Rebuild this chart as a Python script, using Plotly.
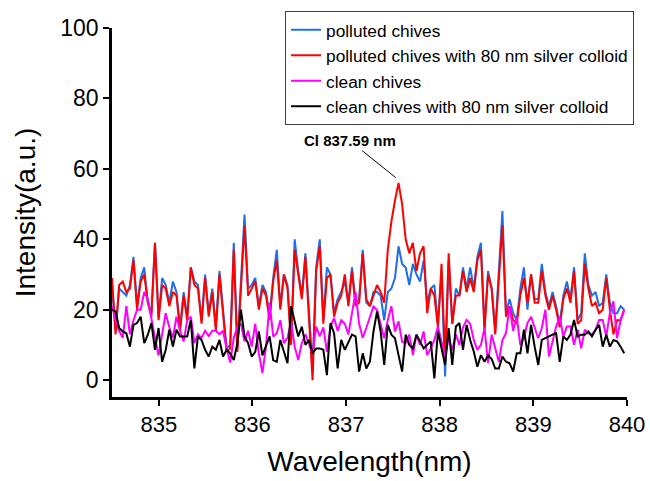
import numpy as np
import plotly.graph_objects as go

# ---- data ----
WL_START = 834.50
WL_END = 839.97

polluted = [27,14,26,25,24,27,35,21,29,32,22,19,39,18,29,27,22,28,25,15,25,18,32,
            28,27,17,30,19,26,15,31,20,9,10,39,9,27,47,26,27,29,21,27,25,18,29,37,
            21,30,27,11,40,31,24,36,19,3,32,40,17,32,30,19,23,25,28,22,32,22,23,37,
            22,21,25,25,24,17,25,26,29,38,33,32,27,33,30,28,34,22,26,27,16,30,1,34,
            16,26,24,32,26,32,26,35,39,15,31,26,14,31,48,19,23,19,17,26,32,20,30,23,
            23,33,25,21,25,21,16,24,28,23,32,17,19,36,27,24,25,21,22,30,22,19,19,21,20]

polluted_ag = [29,13,27,28,25,26,34,20,28,30,22,18,39,17,27,26,21,25,24,14,24,17,32,
               27,26,16,29,18,25,14,30,19,8,9,37,8,26,44,24,26,28,20,26,24,17,28,34,
               20,30,26,10,37,30,23,35,18,0,31,38,16,29,30,18,22,24,30,21,31,21,22,36,
               23,21,24,27,25,22,37,45,51,56,50,40,36,39,31,36,38,19,26,24,15,33,6,36,
               16,24,24,31,25,29,25,34,37,14,30,26,13,30,44,18,21,17,16,24,29,22,30,22,
               22,31,24,20,24,20,15,23,26,22,31,16,17,33,26,21,22,19,20,29,20,13,17,17,20]

clean = [21,17,14,12,21,13,17,20,20,25,23,17,12,7,13,19,15,12,18,14,11,17,18,
         10.5,13,12,14,12.5,14,14,13,14,9,5,12,15,16,11,14,9.5,16,7.6,2,9.5,22,12.4,13.3,
         17,10.5,12,16.7,9.5,5.7,10.5,13,10.5,7.6,15.2,12.4,15,8,15.2,17.6,14,17,16,13,19,25,16,12,
         14.8,17.6,20.9,19.9,15.7,11.9,17.1,21,13.8,16.7,10.9,10.5,12.9,7.1,12.9,10,13.8,7.1,9,11.4,15.2,10.9,6.7,11.9,
         8.6,13,10,15,17.1,16,11.4,8.6,10,14.8,4.8,12.9,8.6,5.2,11.4,13.3,21,14,18,10,12,16.2,18,15,
         11.9,14.8,20,6.7,11.4,15.2,18,12.4,15.2,15.2,10,14.3,9,14.3,13.3,12.9,14.3,17.1,17.1,12.4,19,22.4,11.9,17,20]

clean_ag = [20,19.5,14.8,13.8,13.3,9.5,15.7,16.2,18,10.5,12.9,16.2,8.6,14.8,5.2,8.6,14.3,9.5,14.3,12.4,12.4,12.4,17.1,
            3.3,12.4,11.4,8.6,6.7,9.5,8.6,11.4,6.7,8.6,7.6,5.7,10.5,20,12.4,10.5,6.7,8,13.8,7,9.5,12.4,5.7,5.2,
            11.4,8,4.8,21,17.1,12.4,15.2,10,11.4,7.6,9,9,8.6,1.4,16.2,13.3,3.3,11.4,8.6,10.8,12.9,12.4,2.4,7.6,
            3.3,5.2,13.8,19.5,13.8,4.3,15.7,12.9,11.9,7.1,2.4,12.9,10,9,12.9,11,9,10,11,0.5,13.8,9,4.3,14.8,
            4.3,15.2,16.2,8.6,15.7,11.4,8.1,3.8,7.1,5.2,7,6,3.3,3.3,6.7,5.2,4.8,2.4,7.6,7.6,14.3,7.6,15.7,9.5,
            4.3,11.4,12,12.4,12.9,13.3,5.2,12.4,11.4,12.9,17.1,12.4,12.9,12.9,13.8,12.4,14.3,15.7,9.5,12.9,9.5,11.4,11,9.5,7.6]

series_names = ["polluted chives",
                "polluted chives with 80 nm silver colloid",
                "clean chives",
                "clean chives with 80 nm silver colloid"]
series_values = [polluted, polluted_ag, clean, clean_ag]
series_colors = ["#1f6fe8", "#ff0000", "#ff00ff", "#000000"]

x_ticks = [835, 836, 837, 838, 839, 840]
y_ticks = [0, 20, 40, 60, 80, 100]

peak_label = "Cl 837.59 nm"
peak_x = 837.53
peak_y = 57.5

FONT = "Liberation Sans, Arial, sans-serif"

fig = go.Figure()
for name, vals, col in zip(series_names, series_values, series_colors):
    xs = np.linspace(WL_START, WL_END, len(vals))
    fig.add_trace(go.Scatter(x=xs, y=vals, mode="lines", name=name,
                             line=dict(color=col, width=2)))

fig.add_annotation(x=peak_x, y=peak_y, text="<b>" + peak_label + "</b>",
                   showarrow=True, arrowhead=0, arrowwidth=1, arrowcolor="black",
                   ax=-46, ay=-37, font=dict(family=FONT, size=15, color="black"))

fig.update_layout(
    width=650, height=481,
    margin=dict(l=112, r=23, t=28, b=84, autoexpand=False),
    paper_bgcolor="white", plot_bgcolor="white",
    font=dict(family=FONT, color="black"),
    showlegend=True,
    legend=dict(x=0.336, y=1.046, xanchor="left", yanchor="top",
                bgcolor="white", bordercolor="#404040", borderwidth=1,
                font=dict(family=FONT, size=17.3, color="black"),
                tracegroupgap=0, itemwidth=30),
    xaxis=dict(range=[834.5, 840.0], tickvals=x_ticks, showgrid=False, zeroline=False,
               showline=True, linecolor="black", linewidth=2.5,
               ticks="outside", ticklen=6, tickwidth=2, tickcolor="black",
               tickfont=dict(family=FONT, size=22),
               title=dict(text="Wavelength(nm)", font=dict(family=FONT, size=28), standoff=16)),
    yaxis=dict(range=[-4.8, 100], tickvals=y_ticks, showgrid=False, zeroline=False,
               showline=True, linecolor="black", linewidth=2.5,
               ticks="outside", ticklen=6, tickwidth=2, tickcolor="black",
               tickfont=dict(family=FONT, size=23),
               title=dict(text="Intensity(a.u.)", font=dict(family=FONT, size=28), standoff=17)),
)

fig.write_html("out.html", config={"displayModeBar": False},
               post_script="document.body.style.margin='0';document.body.style.padding='0';")
